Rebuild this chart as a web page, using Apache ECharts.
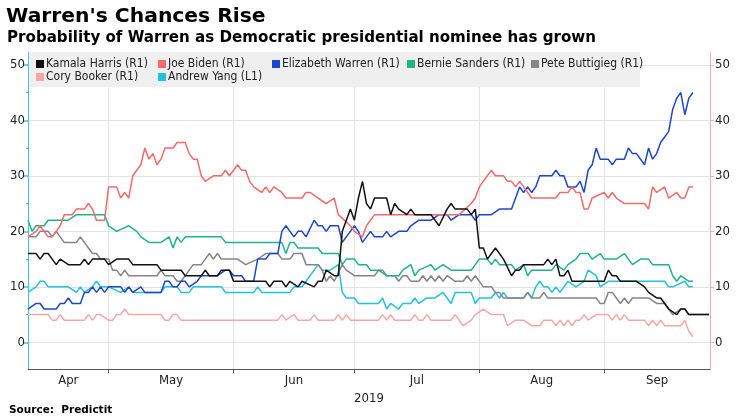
<!DOCTYPE html>
<html><head><meta charset="utf-8">
<script src="https://cdn.jsdelivr.net/npm/echarts@6/dist/echarts.min.js"></script>
<style>html,body{margin:0;padding:0;background:#fff}#c{width:740px;height:416px}</style>
</head><body><div id="c"></div>
<script>
// ---- data (dates are MM-DD in 2019, values in %) ----
const seriesNames = ['Kamala Harris (R1)','Joe Biden (R1)','Elizabeth Warren (R1)','Bernie Sanders (R1)','Pete Buttigieg (R1)','Cory Booker (R1)','Andrew Yang (L1)'];
const harris = [['04-11',16],['04-13',16],['04-14',15],['04-15',16],['04-16',16],['04-17',15],['04-18',14],['04-19',15],['04-21',14],['04-24',14],['04-25',15],['04-26',14],['04-27',15],['04-30',15],['05-01',14],['05-03',15],['05-06',15],['05-07',14],['05-13',14],['05-14',13],['05-19',13],['05-20',12],['05-24',12],['05-25',13],['05-26',12],['05-28',12],['05-29',13],['05-31',13],['06-01',11],['06-09',11],['06-10',10],['06-11',11],['06-13',11],['06-14',10],['06-15',11],['06-17',10],['06-18',11],['06-21',10],['06-22',11],['06-23',11],['06-24',13],['06-26',12],['06-27',12],['06-28',20],['06-29',22],['06-30',24],['07-01',22],['07-02',26],['07-03',29],['07-04',25],['07-05',24],['07-06',26],['07-09',26],['07-10',23],['07-11',25],['07-12',24],['07-14',23],['07-15',24],['07-16',23],['07-20',23],['07-22',21],['07-24',24],['07-25',25],['07-26',24],['07-29',24],['07-30',23],['07-31',24],['08-01',17],['08-02',17],['08-03',15],['08-05',17],['08-07',15],['08-09',12],['08-10',13],['08-11',13],['08-12',14],['08-17',14],['08-18',15],['08-19',14],['08-20',15],['08-21',12],['08-22',12],['08-23',13],['08-24',11],['09-01',11],['09-02',13],['09-03',12],['09-04',12],['09-05',11],['09-09',11],['09-11',10],['09-12',9],['09-14',8],['09-15',8],['09-17',6],['09-19',5],['09-20',6],['09-21',6],['09-22',5],['09-27',5]];
const biden = [['04-11',19],['04-13',20],['04-14',21],['04-15',20],['04-16',19],['04-17',19],['04-18',20],['04-19',21],['04-20',23],['04-22',23],['04-23',24],['04-25',24],['04-26',25],['04-27',24],['04-28',22],['04-30',22],['05-01',28],['05-03',28],['05-04',26],['05-05',27],['05-06',26],['05-07',30],['05-09',32],['05-10',35],['05-11',33],['05-12',34],['05-13',32],['05-14',33],['05-15',35],['05-17',35],['05-18',36],['05-20',36],['05-21',34],['05-22',33],['05-23',33],['05-24',30],['05-25',29],['05-27',30],['05-29',30],['05-30',31],['05-31',30],['06-02',32],['06-03',31],['06-04',31],['06-05',29],['06-06',28],['06-08',27],['06-09',28],['06-10',27],['06-11',28],['06-13',27],['06-14',26],['06-18',26],['06-19',27],['06-20',27],['06-22',26],['06-24',25],['06-26',26],['06-27',23],['06-30',21],['07-01',20],['07-03',19],['07-04',21],['07-06',23],['07-25',23],['07-27',23],['07-30',25],['07-31',26],['08-01',28],['08-03',30],['08-04',31],['08-05',30],['08-07',30],['08-08',29],['08-09',29],['08-10',28],['08-11',29],['08-12',28],['08-13',27],['08-14',26],['08-20',26],['08-21',27],['08-23',27],['08-24',28],['08-25',27],['08-26',27],['08-27',24],['08-28',24],['08-29',26],['09-01',27],['09-02',26],['09-03',27],['09-04',26],['09-06',25],['09-11',25],['09-12',24],['09-13',28],['09-14',27],['09-16',28],['09-17',26],['09-19',27],['09-20',26],['09-21',26],['09-22',28],['09-23',28]];
const warren = [['04-11',6],['04-13',7],['04-14',7],['04-15',6],['04-18',6],['04-19',7],['04-20',7],['04-21',8],['04-22',7],['04-24',7],['04-25',9],['04-26',9],['04-27',10],['04-28',9],['04-29',10],['04-30',9],['05-01',10],['05-04',10],['05-05',9],['05-06',10],['05-07',9],['05-09',10],['05-10',9],['05-14',9],['05-15',11],['05-16',11],['05-17',10],['05-18',10],['05-19',11],['05-20',11],['05-21',10],['05-23',11],['05-24',12],['05-28',12],['05-30',13],['05-31',13],['06-01',12],['06-03',12],['06-04',11],['06-06',11],['06-07',15],['06-09',15],['06-10',16],['06-12',16],['06-13',20],['06-14',21],['06-16',19],['06-17',20],['06-18',20],['06-19',19],['06-21',22],['06-22',21],['06-23',21],['06-24',20],['06-25',21],['06-27',21],['06-28',18],['06-30',20],['07-01',21],['07-02',20],['07-03',18],['07-05',20],['07-06',19],['07-08',19],['07-09',20],['07-10',19],['07-12',20],['07-14',20],['07-15',21],['07-17',22],['07-20',22],['07-22',23],['07-24',23],['07-25',22],['07-27',23],['07-30',23],['07-31',22],['08-01',23],['08-04',23],['08-06',24],['08-09',24],['08-10',26],['08-11',28],['08-12',27],['08-13',28],['08-14',27],['08-15',28],['08-16',30],['08-19',30],['08-20',31],['08-21',30],['08-22',30],['08-23',28],['08-25',28],['08-26',29],['08-27',27],['08-28',31],['08-29',32],['08-30',35],['08-31',33],['09-02',33],['09-03',32],['09-04',33],['09-06',33],['09-07',35],['09-08',34],['09-09',34],['09-11',32],['09-12',35],['09-13',33],['09-14',34],['09-15',36],['09-16',37],['09-17',38],['09-18',42],['09-19',44],['09-20',45],['09-21',41],['09-22',44],['09-23',45]];
const sanders = [['04-11',22],['04-12',20],['04-13',21],['04-15',21],['04-16',22],['04-21',22],['04-23',23],['04-30',23],['05-01',21],['05-03',20],['05-06',21],['05-08',20],['05-09',19],['05-11',18],['05-14',18],['05-16',19],['05-17',17],['05-18',19],['05-19',18],['05-20',19],['05-29',19],['05-30',18],['06-13',18],['06-14',16],['06-15',18],['06-16',18],['06-17',17],['06-22',17],['06-23',16],['06-27',16],['06-28',14],['06-29',15],['07-01',15],['07-02',14],['07-04',14],['07-05',13],['07-07',13],['07-09',12],['07-12',12],['07-13',13],['07-15',14],['07-16',12],['07-17',13],['07-20',14],['07-21',13],['07-23',14],['07-25',13],['07-30',13],['08-01',15],['08-03',15],['08-04',14],['08-05',15],['08-06',14],['08-09',14],['08-10',13],['08-12',14],['08-13',12],['08-14',13],['08-19',13],['08-20',14],['08-22',13],['08-23',14],['08-25',15],['08-26',16],['08-28',16],['08-29',15],['08-31',16],['09-01',15],['09-04',15],['09-06',16],['09-08',14],['09-10',15],['09-12',15],['09-13',14],['09-17',14],['09-18',12],['09-19',11],['09-20',12],['09-22',11],['09-23',11]];
const buttigieg = [['04-11',19],['04-13',19],['04-14',20],['04-16',20],['04-17',19],['04-18',20],['04-20',18],['04-23',18],['04-24',19],['04-26',17],['04-27',16],['04-28',16],['04-29',15],['05-01',15],['05-02',13],['05-03',13],['05-04',12],['05-05',13],['05-06',12],['05-13',12],['05-14',13],['05-15',12],['05-17',12],['05-18',11],['05-19',11],['05-20',12],['05-21',13],['05-22',14],['05-24',14],['05-25',15],['05-26',16],['05-27',15],['05-28',16],['05-29',15],['06-02',15],['06-04',14],['06-07',15],['06-09',16],['06-12',16],['06-13',15],['06-15',15],['06-16',16],['06-18',16],['06-19',14],['06-22',14],['06-23',13],['06-24',11],['06-25',12],['06-26',11],['06-28',14],['06-29',13],['07-01',12],['07-06',12],['07-07',13],['07-08',13],['07-09',12],['07-11',12],['07-12',11],['07-13',12],['07-14',12],['07-15',11],['07-17',11],['07-18',12],['07-19',11],['07-20',12],['07-21',11],['07-22',12],['07-23',11],['07-24',12],['07-26',11],['07-28',11],['07-29',12],['07-30',11],['07-31',12],['08-02',10],['08-04',10],['08-05',9],['08-06',9],['08-07',8],['08-12',8],['08-13',9],['08-14',8],['08-16',8],['08-17',9],['08-18',8],['08-30',8],['08-31',7],['09-01',7],['09-02',9],['09-03',9],['09-04',8],['09-05',7],['09-06',8],['09-07',7],['09-08',8],['09-12',8],['09-14',7],['09-16',7],['09-17',6],['09-18',5],['09-20',6],['09-21',6],['09-22',5],['09-27',5]];
const booker = [['04-11',5],['04-16',5],['04-17',4],['04-18',4],['04-19',5],['04-20',4],['04-25',4],['04-26',5],['04-27',4],['04-28',5],['04-29',5],['05-01',4],['05-02',4],['05-03',5],['05-04',5],['05-05',6],['05-06',5],['05-14',5],['05-15',4],['05-16',4],['05-17',5],['05-18',5],['05-19',4],['06-12',4],['06-13',5],['06-14',4],['06-16',5],['06-17',4],['06-20',4],['06-21',5],['06-22',4],['06-26',4],['06-27',5],['06-28',4],['06-29',5],['06-30',4],['07-07',4],['07-08',5],['07-09',4],['07-10',5],['07-11',4],['07-15',4],['07-16',5],['07-17',4],['07-18',4],['07-19',5],['07-20',4],['07-25',4],['07-26',5],['07-28',3],['07-30',4],['07-31',5],['08-02',6],['08-04',5],['08-07',5],['08-08',3],['08-10',4],['08-12',4],['08-14',3],['08-16',3],['08-17',4],['08-19',4],['08-20',3],['08-21',4],['08-22',3],['08-23',4],['08-24',3],['08-25',4],['08-26',4],['08-27',5],['08-28',4],['08-30',5],['09-02',5],['09-03',4],['09-04',5],['09-05',4],['09-06',5],['09-07',4],['09-11',4],['09-12',3],['09-13',4],['09-14',3],['09-15',4],['09-16',3],['09-20',3],['09-21',4],['09-22',2],['09-23',1]];
const yang = [['04-11',9],['04-13',10],['04-14',11],['04-15',11],['04-16',10],['04-21',10],['04-23',9],['04-24',10],['04-25',9],['04-27',10],['04-28',11],['04-29',10],['05-01',10],['05-04',9],['05-06',10],['05-07',9],['05-14',9],['05-15',10],['05-18',10],['05-19',9],['05-21',9],['05-22',10],['05-29',10],['05-30',9],['06-06',9],['06-07',10],['06-08',9],['06-15',9],['06-16',10],['06-18',10],['06-19',11],['06-20',12],['06-21',13],['06-22',14],['06-23',13],['06-25',13],['06-27',14],['06-28',9],['06-29',8],['07-01',8],['07-02',7],['07-07',7],['07-08',8],['07-09',6],['07-10',7],['07-12',6],['07-13',7],['07-15',7],['07-16',8],['07-17',7],['07-19',8],['07-21',8],['07-23',9],['07-24',8],['07-25',7],['07-26',9],['07-30',9],['07-31',7],['08-01',8],['08-04',8],['08-05',9],['08-06',8],['08-07',9],['08-08',8],['08-12',8],['08-13',9],['08-14',8],['08-15',10],['08-16',11],['08-17',10],['08-18',10],['08-19',9],['08-20',10],['08-21',9],['08-22',10],['08-23',11],['08-25',10],['08-27',11],['08-28',13],['08-30',12],['08-31',10],['09-02',11],['09-16',11],['09-17',10],['09-18',10],['09-21',11],['09-22',10],['09-23',10]];
const monthLabels = ['Apr','May','Jun','Jul','Aug','Sep'];
const monthStarts = ['05-01','06-01','07-01','08-01','09-01'];
const yLabelValues = [0,10,20,30,40,50];
const yMinorValues = [5,15,25,35,45];

// ---- layout / style ----
const FONT = "'DejaVu Sans Condensed','DejaVu Sans',sans-serif";
const TFONT = "'DejaVu Sans',sans-serif";
const colors = ['#111111','#f26a6a','#1d46cc','#20b388','#858585','#f7a6a6','#22c2d8'];
const toTs = s => { const q = s.split('-'); return Date.UTC(2019, +q[0]-1, +q[1]); };
const X_MIN = toTs('04-11');
const X_MAX = toTs('09-27') + 6 * 3600e3;
const Y_MIN = -4.8, Y_MAX = 52.3;

const monthStartTs = monthStarts.map(toTs);
const bounds = [X_MIN].concat(monthStartTs).concat([X_MAX]);
const monthMid = [];
for (let i = 0; i < bounds.length - 1; i++) monthMid.push((bounds[i] + bounds[i+1]) / 2);

const dataSets = [harris, biden, warren, sanders, buttigieg, booker, yang];
const mk = arr => arr.map(p => [toTs(p[0]), p[1]]);

const legendPos = [[36,58],[158,58],[272,58],[407,58],[531,58],[36,71],[158,71]];

const chart = echarts.init(document.getElementById('c'), null, {renderer:'canvas'});
const series = dataSets.map((d, i) => ({
  name: seriesNames[i], type: 'line', data: mk(d),
  yAxisIndex: i === 6 ? 0 : 1,
  showSymbol: false, symbol: 'none', smooth: false,
  lineStyle: {width: 1.5, color: colors[i]}, itemStyle: {color: colors[i]},
  z: 3 + (6 - i), animation: false
}));

chart.setOption({
  animation: false,
  backgroundColor: '#ffffff',
  title: [
    {text: "Warren's Chances Rise", left: 1, top: 2, textStyle: {fontFamily: TFONT, fontSize: 20.3, fontWeight: 'bold', color: '#000'}},
    {text: 'Probability of Warren as Democratic presidential nominee has grown', left: 2, top: 26, textStyle: {fontFamily: TFONT, fontSize: 15.1, fontWeight: 'bold', color: '#000'}},
    {text: 'Source:  Predictit', left: 4, top: 400, textStyle: {fontFamily: TFONT, fontSize: 10.5, fontWeight: 'bold', color: '#000'}}
  ],
  legend: seriesNames.map((n, i) => ({
    data: [n], left: legendPos[i][0], top: legendPos[i][1], padding: 0, itemGap: 0,
    icon: 'rect', itemWidth: 8, itemHeight: 8, selectedMode: false, z: 5,
    textStyle: {fontFamily: FONT, fontSize: 12, color: '#222', padding: [0,0,0,-3]}
  })),
  graphic: [{type: 'rect', shape: {x: 30, y: 52, width: 610, height: 35}, style: {fill: '#efefef'}, z: 1, silent: true}],
  grid: {left: 28, right: 30, top: 52, bottom: 47, containLabel: false},
  xAxis: {
    type: 'value', min: X_MIN, max: X_MAX,
    name: '2019', nameLocation: 'middle', nameGap: 19,
    nameTextStyle: {fontFamily: FONT, fontSize: 13, color: '#222'},
    axisLine: {show: true, onZero: false, lineStyle: {color: '#555', width: 1}},
    axisTick: {show: true, customValues: monthStartTs, length: 4, lineStyle: {color: '#555'}},
    axisLabel: {customValues: monthMid, margin: 5, fontFamily: FONT, fontSize: 13, color: '#222',
      formatter: v => monthLabels[new Date(v).getUTCMonth() - 3]},
    splitLine: {show: true, lineStyle: {color: '#e3e3e3', width: 1}}
  },
  yAxis: [
    {type: 'value', position: 'left', min: Y_MIN, max: Y_MAX,
     axisLine: {show: true, onZero: false, lineStyle: {color: '#3cc6da', width: 1}},
     axisTick: {show: true, customValues: yLabelValues, length: 5, lineStyle: {color: '#3cc6da', width: 1.5}},
     axisLabel: {customValues: yLabelValues, margin: 3, fontFamily: FONT, fontSize: 13, color: '#222'},
     splitLine: {show: false}},
    {type: 'value', position: 'right', min: Y_MIN, max: Y_MAX,
     axisLine: {show: true, onZero: false, lineStyle: {color: '#f5a9b0', width: 1}},
     axisTick: {show: true, customValues: yLabelValues, length: 4, lineStyle: {color: '#f5a9b0'}},
     axisLabel: {customValues: yLabelValues, margin: 5, fontFamily: FONT, fontSize: 13, color: '#222'},
     splitLine: {show: true, lineStyle: {color: '#e3e3e3', width: 1}}},
    {type: 'value', position: 'left', min: Y_MIN, max: Y_MAX,
     axisLine: {show: false, onZero: false},
     axisTick: {show: true, customValues: yMinorValues, length: 2, lineStyle: {color: '#3cc6da', width: 1}},
     axisLabel: {show: false},
     splitLine: {show: false}}
  ],
  series: series
});
</script>
</body></html>
